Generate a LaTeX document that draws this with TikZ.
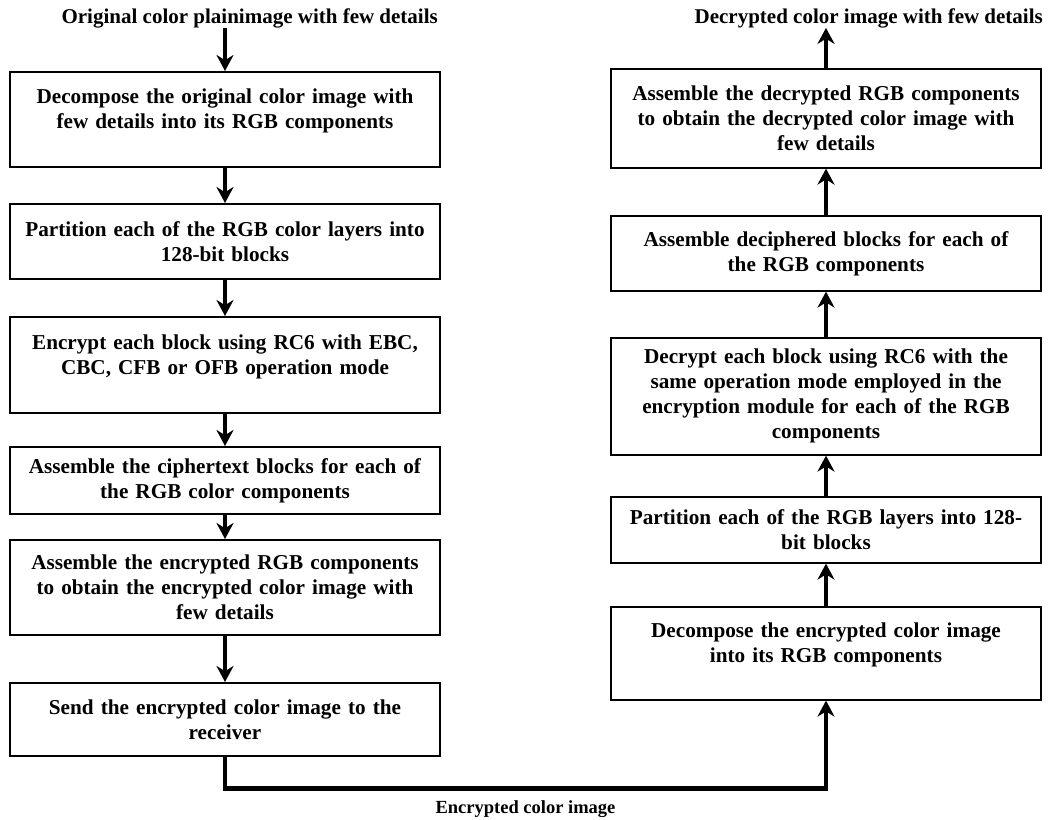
\documentclass[tikz,border=0pt]{standalone}
\usepackage{fontspec}
\setmainfont{Liberation Serif}
\usepackage{tikz}
\usetikzlibrary{arrows.meta,positioning}
\tikzset{blk/.style={rectangle,draw,line width=1.6pt,text width=420pt,inner xsep=5pt,align=center,anchor=north,font=\fontsize{21.2}{25}\selectfont\bfseries}}
\tikzset{lbl/.style={inner sep=0pt,font=\fontsize{21}{24}\selectfont\bfseries}}

\begin{document}
\begin{tikzpicture}[x=1pt,y=-1pt,>={Stealth[length=16pt,width=17pt]}]
        \useasboundingbox (0,0) rectangle (1049,819);

        % encryption side
        \node[lbl,anchor=east] (src) at (438,18) {Original color plainimage with few details};
        \node[blk,minimum height=95pt] (a) at (225,71) {Decompose the original color image with\\ few details into its RGB components\\[-12pt] \strut};
        \node[blk,minimum height=75pt] (b) at (225,203) {Partition each of the RGB color layers into\\ 128-bit blocks};
        \node[blk,minimum height=96pt] (c) at (225,316) {Encrypt each block using RC6 with EBC,\\ CBC, CFB or OFB operation mode\\[-12pt] \strut};
        \node[blk,minimum height=67pt] (d) at (225,446) {Assemble the ciphertext blocks for each of\\ the RGB color components};
        \node[blk,minimum height=95pt] (e) at (225,539) {Assemble the encrypted RGB components\\ to obtain the encrypted color image with\\ few details};
        \node[blk,minimum height=73pt] (f) at (225,682) {Send the encrypted color image to the\\ receiver};

        % decryption side
        \node[lbl,anchor=east] (dst) at (1043,18) {Decrypted color image with few details};
        \node[blk,minimum height=99pt] (r1) at (826,68) {Assemble the decrypted RGB components\\ to obtain the decrypted color image with\\ few details};
        \node[blk,minimum height=75pt] (r2) at (826,215) {Assemble deciphered blocks for each of\\ the RGB components};
        \node[blk,minimum height=117pt] (r3) at (826,337) {Decrypt each block using RC6 with the\\ same operation mode employed in the\\ encryption module for each of the RGB\\ components};
        \node[blk,minimum height=66pt] (r4) at (826,496) {Partition each of the RGB layers into 128-\\ bit blocks};
        \node[blk,minimum height=93pt] (r5) at (826,606) {Decompose the encrypted color image\\ into its RGB components\\[-12pt] \strut};

        \draw [->,line width=3.5pt] (src.south -| a.north) to (a.north);
        \draw [->,line width=3.5pt] (a) to (b);
        \draw [->,line width=3.5pt] (b) to (c);
        \draw [->,line width=3.5pt] (c) to (d);
        \draw [->,line width=3.5pt] (d) to (e);
        \draw [->,line width=3.5pt] (e) to (f);

        \draw [->,line width=4.5pt] (f.south) -- ++(0,32) -| node[pos=0.25,below=6pt,font=\fontsize{18.5}{21}\selectfont\bfseries]{Encrypted color image} (r5.south);

        \draw [->,line width=3.5pt] (r5) to (r4);
        \draw [->,line width=3.5pt] (r4) to (r3);
        \draw [->,line width=3.5pt] (r3) to (r2);
        \draw [->,line width=3.5pt] (r2) to (r1);
        \draw [->,line width=3.5pt] (r1.north) to (r1.north |- dst.south);
    \end{tikzpicture}
\end{document}
